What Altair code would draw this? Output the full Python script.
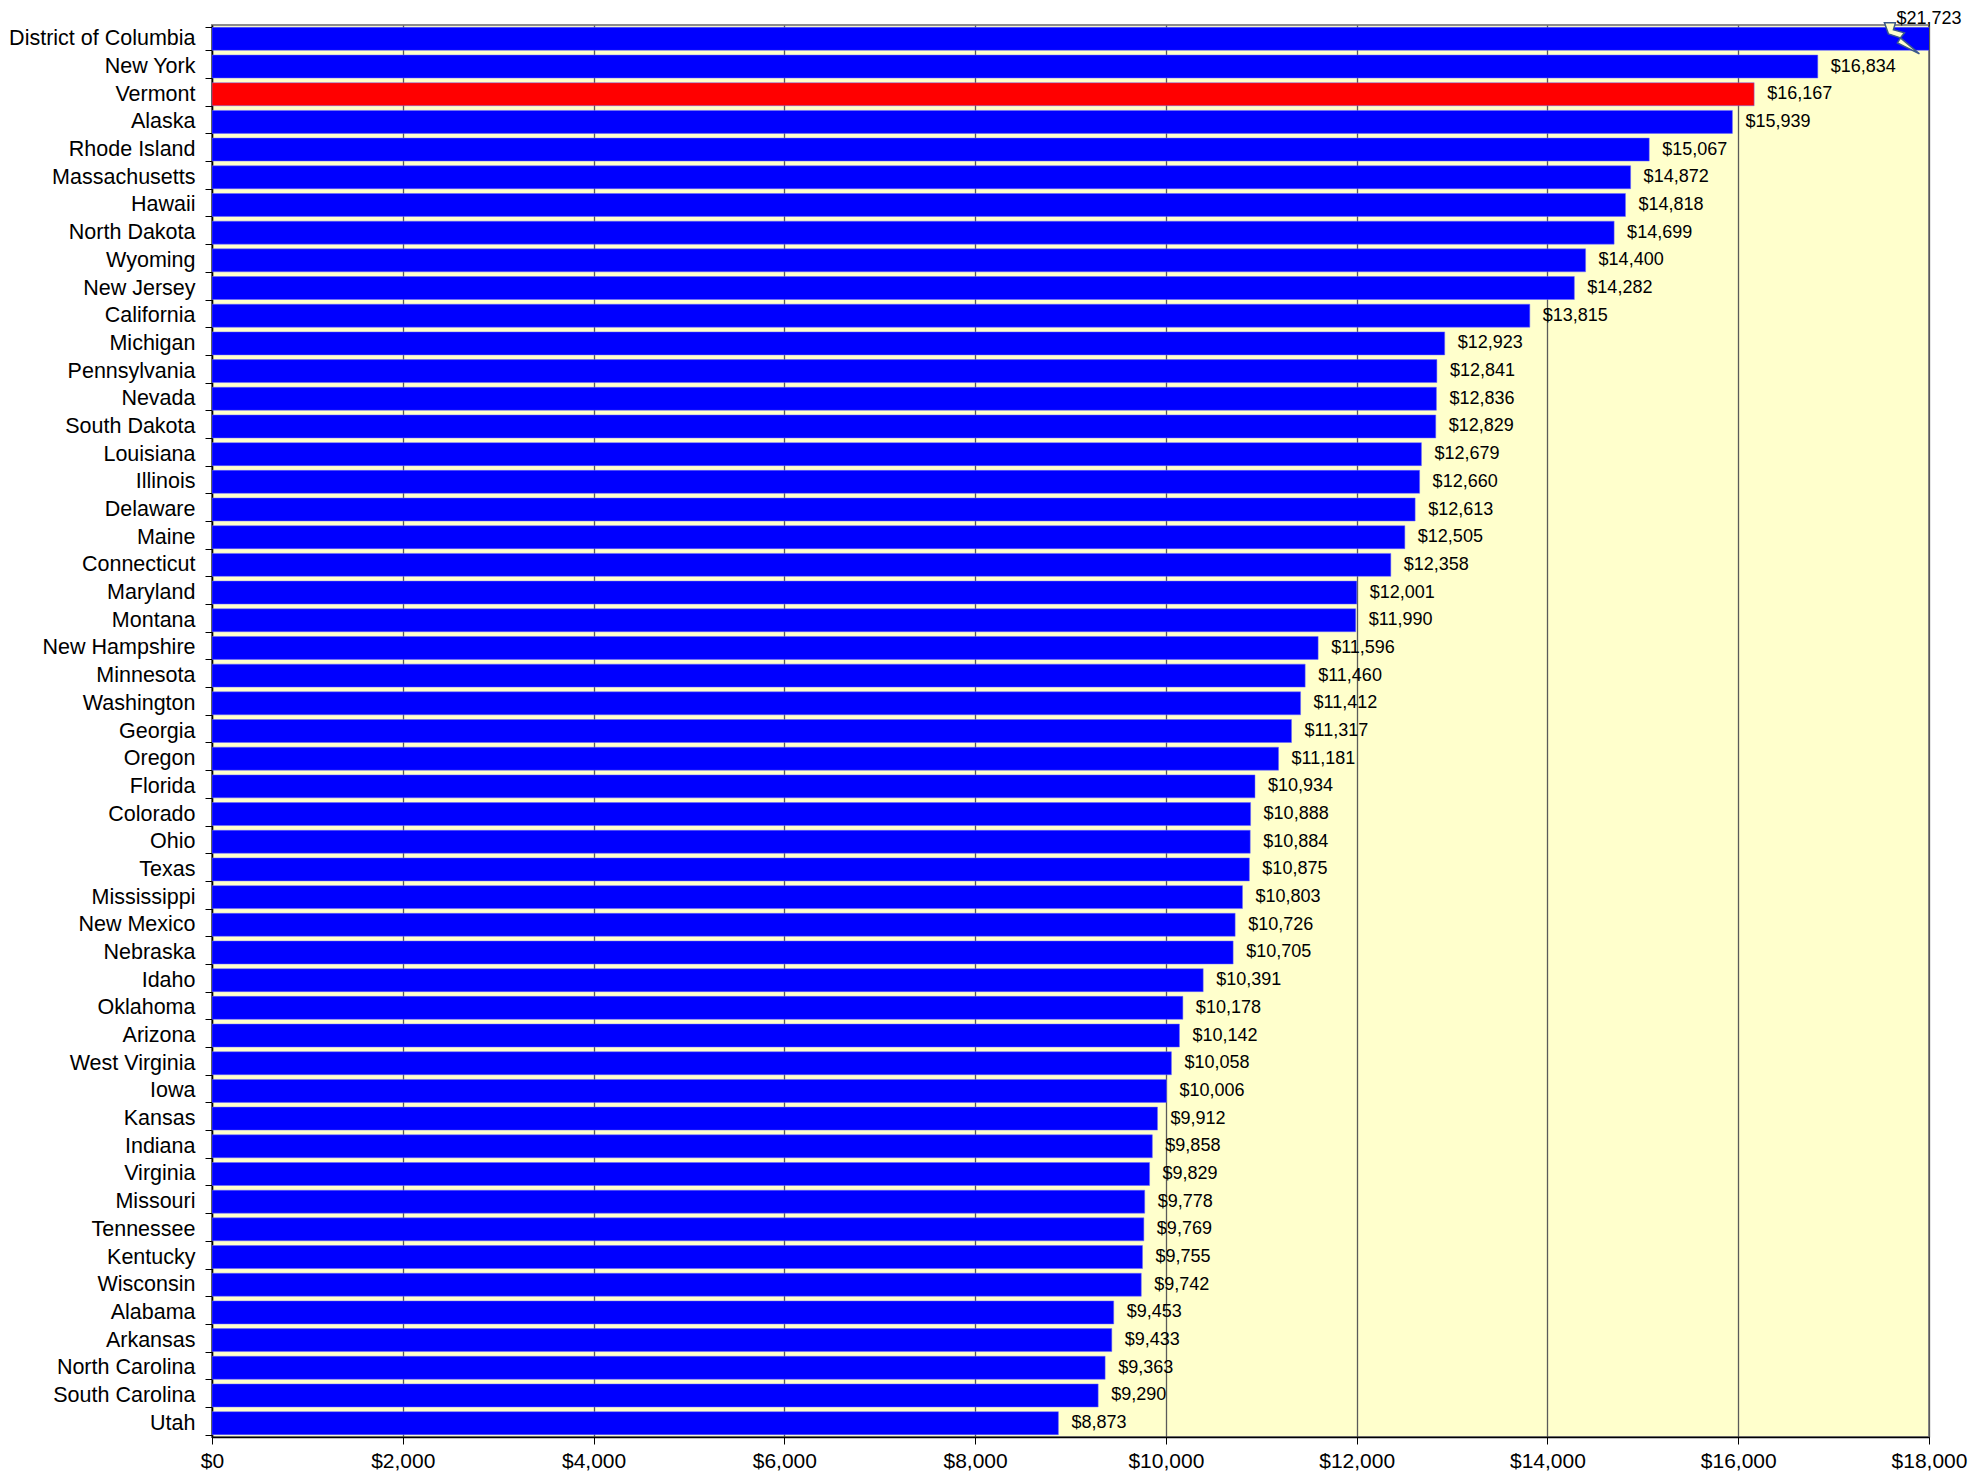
import altair as alt
import pandas as pd

states = ["District of Columbia", "New York", "Vermont", "Alaska", "Rhode Island",
          "Massachusetts", "Hawaii", "North Dakota", "Wyoming", "New Jersey",
          "California", "Michigan", "Pennsylvania", "Nevada", "South Dakota",
          "Louisiana", "Illinois", "Delaware", "Maine", "Connecticut",
          "Maryland", "Montana", "New Hampshire", "Minnesota", "Washington",
          "Georgia", "Oregon", "Florida", "Colorado", "Ohio", "Texas",
          "Mississippi", "New Mexico", "Nebraska", "Idaho", "Oklahoma",
          "Arizona", "West Virginia", "Iowa", "Kansas", "Indiana", "Virginia",
          "Missouri", "Tennessee", "Kentucky", "Wisconsin", "Alabama",
          "Arkansas", "North Carolina", "South Carolina", "Utah"]
spending = [21723, 16834, 16167, 15939, 15067, 14872, 14818, 14699, 14400, 14282,
            13815, 12923, 12841, 12836, 12829, 12679, 12660, 12613, 12505, 12358,
            12001, 11990, 11596, 11460, 11412, 11317, 11181, 10934, 10888, 10884,
            10875, 10803, 10726, 10705, 10391, 10178, 10142, 10058, 10006, 9912,
            9858, 9829, 9778, 9769, 9755, 9742, 9453, 9433, 9363, 9290, 8873]
highlight = "Vermont"
axis_max = 18000
x_ticks = [0, 2000, 4000, 6000, 8000, 10000, 12000, 14000, 16000, 18000]

df = pd.DataFrame({"state": states, "value": spending})
df["hl"] = df["state"] == highlight

FONT = "Liberation Sans"

y_enc = alt.Y("state:N", sort=states, title=None,
              scale=alt.Scale(paddingInner=0.17, paddingOuter=0.085),
              axis=alt.Axis(labelFontSize=21.5, labelFont=FONT, labelColor="black",
                            labelPadding=10, tickSize=7, tickColor="black",
                            domainColor="black", domainWidth=1.5,
                            tickBand="extent", grid=False, labelLimit=400))
x_scale = alt.Scale(domain=[0, axis_max], nice=False)

base = alt.Chart(df)

bars = base.mark_bar(clip=True, stroke="#6a6aff", strokeWidth=0.5).encode(
    x=alt.X("value:Q", scale=x_scale, title=None,
            axis=alt.Axis(values=x_ticks, format="$,.0f", labelFontSize=21,
                          labelFont=FONT, labelColor="black", labelPadding=6,
                          tickSize=7, tickColor="black", domainColor="black",
                          domainWidth=1.5, grid=True, gridColor="#5a5a5a",
                          gridWidth=1.3, labelFlush=False)),
    y=y_enc,
    color=alt.condition(alt.datum.hl, alt.value("#FF0000"), alt.value("#0000FF")),
)

labels = base.transform_filter(alt.datum.value <= axis_max).mark_text(
    align="left", baseline="middle", dx=13, fontSize=18, font=FONT, color="black"
).encode(
    x=alt.X("value:Q", scale=x_scale),
    y=alt.Y("state:N", sort=states),
    text=alt.Text("value:Q", format="$,.0f"),
)

over_labels = base.transform_filter(alt.datum.value > axis_max).transform_calculate(
    xpos=str(axis_max)
).mark_text(
    align="center", baseline="middle", dy=-20, fontSize=18, font=FONT, color="black"
).encode(
    x=alt.X("xpos:Q", scale=x_scale),
    y=alt.Y("state:N", sort=states),
    text=alt.Text("value:Q", format="$,.0f"),
)

bolt_path = ("M -0.75 -0.8 L -0.2 -0.8 L -0.3 -0.45 L 0.25 -0.3 L 0.05 -0.05 "
             "L 1 0.75 L -0.1 0.2 L 0.05 -0.05 L -0.55 -0.25 Z")
bolt = base.transform_filter(alt.datum.value > axis_max).transform_calculate(
    xpos="17690"
).mark_point(shape=bolt_path, filled=True, fill="#FFFFCC", stroke="#3c5a8c",
             strokeWidth=1.5, size=1600, opacity=1).encode(
    x=alt.X("xpos:Q", scale=x_scale),
    y=alt.Y("state:N", sort=states),
)

chart = alt.layer(bars, labels, over_labels, bolt).properties(
    width=1717, height=1412,
    padding={"left": 204, "top": 17, "right": 40, "bottom": 40},
    autosize=alt.AutoSizeParams(type="none"),
).configure(background="white").configure_view(
    fill="#FFFFCC", stroke="#8c8c8c", strokeWidth=2
)

chart.save("out.html", embed_options={"renderer": "svg", "actions": False})
